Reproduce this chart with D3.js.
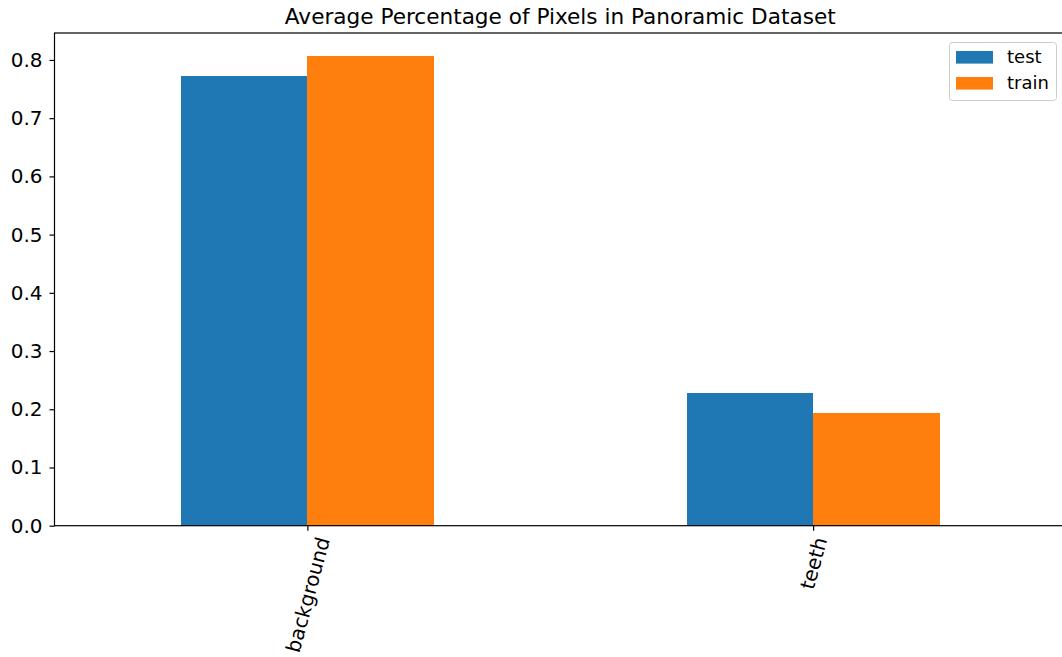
<!DOCTYPE html>
<html>
<head>
<meta charset="utf-8">
<script src="https://cdn.jsdelivr.net/npm/d3@7"></script>
<style>
  body { margin: 0; background: #fff; }
  svg { font-family: "DejaVu Sans", sans-serif; }
</style>
</head>
<body>
<svg width="1062" height="657"></svg>
<script>
var categories = ["background", "teeth"];
var seriesNames = ["test", "train"];
var testValues = [0.773, 0.228];
var trainValues = [0.806, 0.194];
var yTicks = [0.0, 0.1, 0.2, 0.3, 0.4, 0.5, 0.6, 0.7, 0.8];
var colors = ["#1f77b4", "#ff7f0e"];

var svg = d3.select("svg"),
    mLeft = 54.5, mRight = 1066, mTop = 33, mBottom = 525.7;

var series = [testValues, trainValues];

// pandas style: categories at 0,1 and xlim -0.5..1.5
var x = d3.scaleLinear().domain([-0.5, categories.length - 0.5]).range([mLeft, mRight]);
var y = d3.scaleLinear().domain([0, d3.max(trainValues.concat(testValues)) * 1.05]).range([mBottom, mTop]);
var barW = 0.25;

series.forEach(function(vals, s) {
  svg.append("g").selectAll("rect")
    .data(vals)
    .enter().append("rect")
    .attr("x", function(d, i) { return x(i - 0.25 + s * barW); })
    .attr("width", x(barW) - x(0))
    .attr("y", function(d) { return y(d); })
    .attr("height", function(d) { return y(0) - y(d); })
    .attr("fill", colors[s])
    .attr("shape-rendering", "crispEdges");
});

// y axis
var yAxis = svg.append("g")
  .attr("transform", "translate(" + mLeft + ",0)")
  .call(d3.axisLeft(y).tickValues(yTicks).tickFormat(d3.format(".1f")).tickSizeOuter(0).tickSize(5).tickPadding(7));
yAxis.select(".domain").remove();
yAxis.selectAll("text").attr("font-size", 20).attr("fill", "#000").attr("font-family", "DejaVu Sans");
yAxis.selectAll("line").attr("stroke", "#000").attr("stroke-width", 1.2);

// x axis
var xAxis = svg.append("g")
  .attr("transform", "translate(0," + mBottom + ")")
  .call(d3.axisBottom(x).tickValues(d3.range(categories.length)).tickFormat(function(i) { return categories[i]; }).tickSize(5).tickSizeOuter(0));
xAxis.select(".domain").remove();
xAxis.selectAll("line").attr("stroke", "#000").attr("stroke-width", 1.2);
// rotated labels, bbox centred under the tick like matplotlib
var ang = 75 * Math.PI / 180;
xAxis.selectAll("text")
  .attr("font-size", 20).attr("fill", "#000").attr("font-family", "DejaVu Sans")
  .attr("text-anchor", "middle")
  .attr("dy", "0.35em").attr("y", 0)
  .attr("transform", function() {
    var L = this.getComputedTextLength(), h = 15;
    var H = L * Math.sin(ang) + h * Math.cos(ang);
    return "translate(0," + (10 + H / 2) + ") rotate(-75)";
  });

// spines
svg.append("rect")
  .attr("x", mLeft).attr("y", mTop)
  .attr("width", mRight - mLeft).attr("height", mBottom - mTop)
  .attr("fill", "none").attr("stroke", "#000").attr("stroke-width", 1.2);

// title
svg.append("text")
  .attr("x", (mLeft + mRight) / 2).attr("y", 24)
  .attr("text-anchor", "middle").attr("font-size", 21.6)
  .text("Average Percentage of Pixels in Panoramic Dataset");

// legend
var lg = svg.append("g");
lg.append("rect")
  .attr("x", 949.5).attr("y", 42.5).attr("width", 107).attr("height", 58).attr("rx", 3)
  .attr("fill", "#fff").attr("fill-opacity", 0.8).attr("stroke", "#ccc");
seriesNames.forEach(function(n, i) {
  lg.append("rect").attr("x", 956).attr("y", 51 + i * 26).attr("width", 37).attr("height", 12.6).attr("fill", colors[i]);
  lg.append("text").attr("x", 1007).attr("y", 63 + i * 26).attr("font-size", 18).text(n);
});
</script>
</body>
</html>
